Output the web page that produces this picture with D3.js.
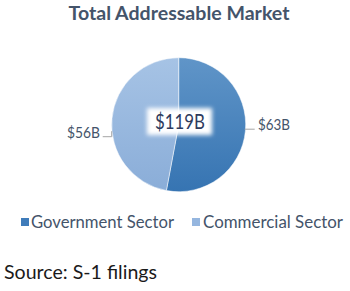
<!DOCTYPE html>
<html><head><meta charset="utf-8">
<script src="https://cdn.jsdelivr.net/npm/d3@7"></script>
<style>html,body{margin:0;padding:0;background:#fff;}svg{display:block;}</style>
</head><body>
<script>
const categories = ["Government Sector", "Commercial Sector"];
const values = [63, 56];
const valueLabels = ["$63B", "$56B"];
const totalLabel = "$119B";
const title = "Total Addressable Market";
const source = "Source: S-1 filings";

const W = 350, H = 291;
const svg = d3.select("body").append("svg").attr("width", W).attr("height", H);
const defs = svg.append("defs");
const grads = [["g0", "#6095c8", "#3674b2"], ["g1", "#a6c3e5", "#8aadd8"]];
grads.forEach(([id, a, b]) => {
  const g = defs.append("linearGradient").attr("id", id)
    .attr("gradientUnits", "userSpaceOnUse").attr("x1", 0).attr("y1", -67).attr("x2", 0).attr("y2", 67);
  g.append("stop").attr("offset", "0%").attr("stop-color", a);
  g.append("stop").attr("offset", "100%").attr("stop-color", b);
});
const colors = d3.scaleOrdinal().domain(categories).range(["url(#g0)", "url(#g1)"]);
const legendColors = d3.scaleOrdinal().domain(categories).range(["#3f7cba", "#95b6df"]);
const f = defs.append("filter").attr("id", "blur").attr("x", "-30%").attr("y", "-50%").attr("width", "160%").attr("height", "200%");
f.append("feGaussianBlur").attr("stdDeviation", 2.2);

const font = "'Lato', 'DejaVu Sans', sans-serif";
const textColor = "#44546a";

svg.append("text").attr("x", 179).attr("y", 19.5).attr("text-anchor", "middle")
  .attr("font-family", font).attr("font-weight", "bold").attr("font-size", 19.5)
  .attr("textLength", 221).attr("lengthAdjust", "spacingAndGlyphs")
  .attr("fill", textColor).text(title);

const cx = 178.7, cy = 124.7, r = 67;
const pie = d3.pie().sort(null).value(d => d)(values);
const arc = d3.arc().innerRadius(0).outerRadius(r);
const g = svg.append("g").attr("transform", `translate(${cx},${cy})`);
g.selectAll("path").data(pie).join("path").attr("d", arc)
  .attr("fill", (d, i) => colors(categories[i]))
  .attr("stroke", "#fff").attr("stroke-width", 0.5);

// leader lines
svg.append("path").attr("d", `M${cx + r - 1},${cy + 4.5}H${cx + r + 9}`)
  .attr("stroke", "#a6a6a6").attr("fill", "none").attr("stroke-width", 1);
svg.append("path").attr("d", `M${cx - r},${cy + 6.5}V${cy + 12}H${cx - r - 9}`)
  .attr("stroke", "#a6a6a6").attr("fill", "none").attr("stroke-width", 1);

svg.append("text").attr("x", 258).attr("y", 129.5).attr("font-family", font)
  .attr("font-size", 16).attr("textLength", 32).attr("lengthAdjust", "spacingAndGlyphs")
  .attr("fill", textColor).text(valueLabels[0]);
svg.append("text").attr("x", 67).attr("y", 138).attr("font-family", font)
  .attr("font-size", 16).attr("textLength", 33).attr("lengthAdjust", "spacingAndGlyphs")
  .attr("fill", textColor).text(valueLabels[1]);

// center label
svg.append("rect").attr("x", 147).attr("y", 108).attr("width", 65).attr("height", 27)
  .attr("fill", "#fff").attr("filter", "url(#blur)");
svg.append("text").attr("x", 155).attr("y", 129).attr("font-family", font)
  .attr("font-size", 21).attr("textLength", 50).attr("lengthAdjust", "spacingAndGlyphs")
  .attr("fill", "#2e3b5e").text(totalLabel);

// legend
const legend = [{x: 21, t: 31, w: 143}, {x: 192, t: 203, w: 140}];
categories.forEach((c, i) => {
  svg.append("rect").attr("x", legend[i].x).attr("y", 218).attr("width", 8).attr("height", 8).attr("fill", legendColors(c));
  svg.append("text").attr("x", legend[i].t).attr("y", 228).attr("font-family", font)
    .attr("font-size", 16.5).attr("textLength", legend[i].w).attr("lengthAdjust", "spacingAndGlyphs")
    .attr("fill", textColor).text(c);
});

svg.append("text").attr("x", 4).attr("y", 279).attr("font-family", font)
  .attr("font-size", 19.5).attr("textLength", 153).attr("lengthAdjust", "spacingAndGlyphs")
  .attr("fill", "#1a1a1a").text(source);
</script>
</body></html>
